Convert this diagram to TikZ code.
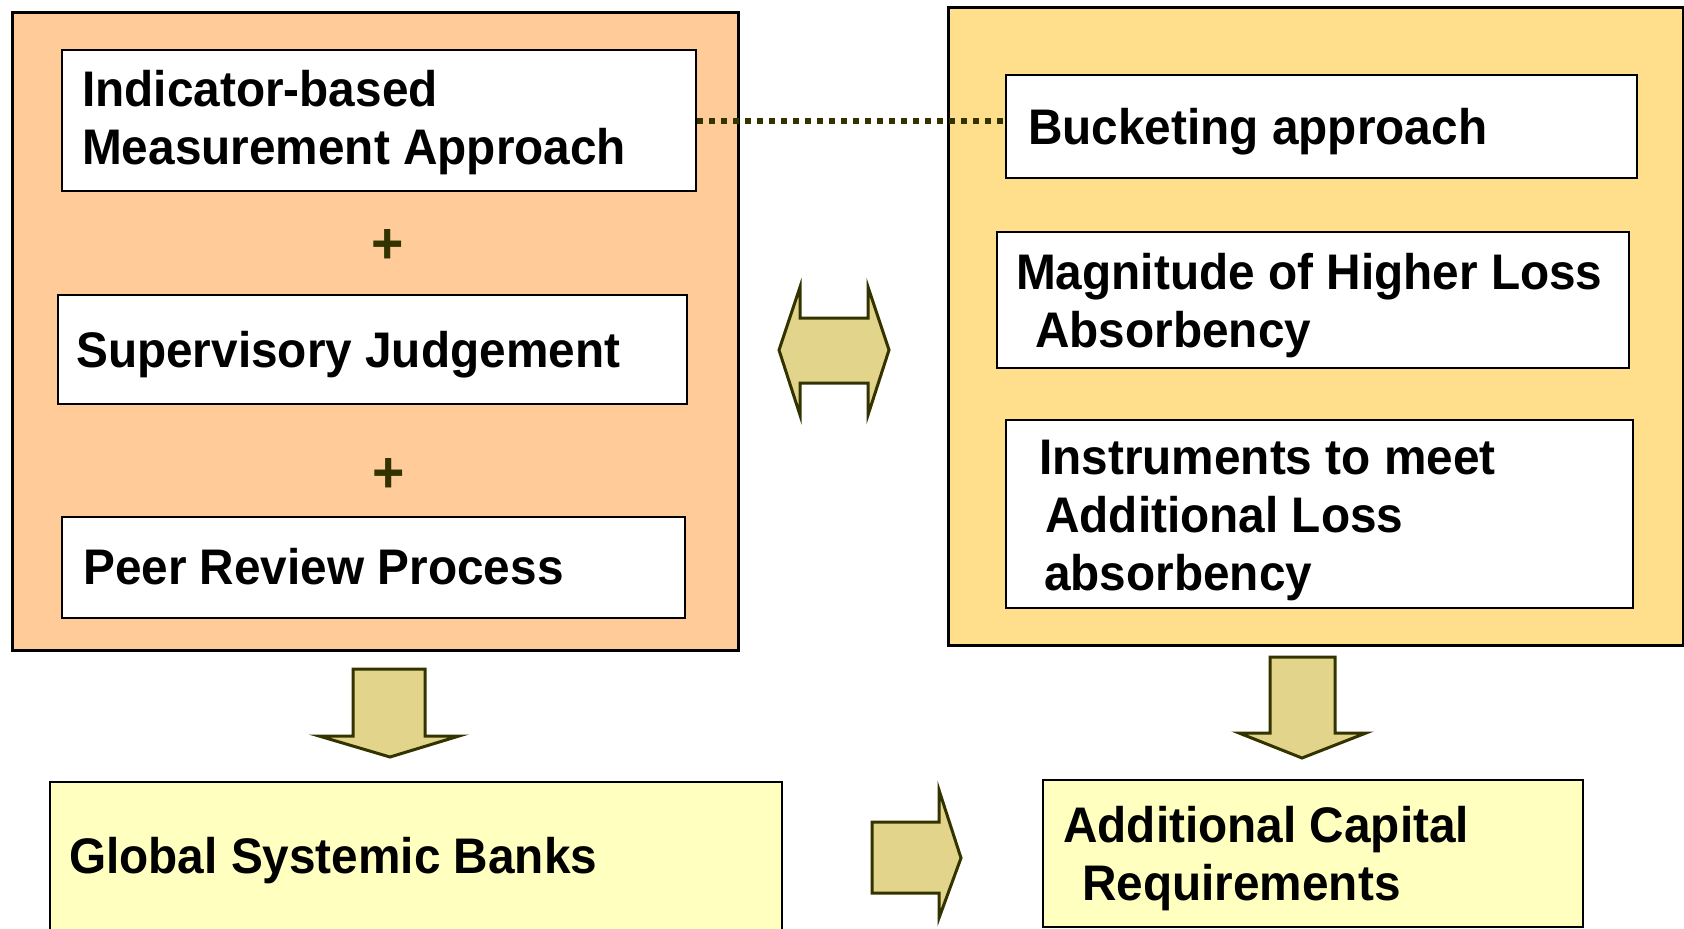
\documentclass[tikz,border=0pt]{standalone}
\usepackage{fontspec}
\newfontfamily\lblfont[FakeStretch=0.955]{Liberation Sans}
\definecolor{peach}{HTML}{FFCC99}
\definecolor{gold}{HTML}{FFDF8C}
\definecolor{paleyellow}{HTML}{FFFFC0}
\definecolor{khaki}{HTML}{E2D58B}
\definecolor{olive}{HTML}{333300}
\tikzset{
  panel/.style={draw=black, line width=3pt, rectangle, inner sep=0pt, anchor=north west},
  card/.style={draw=black, line width=2pt, fill=white, rectangle, inner sep=0pt, anchor=north west},
  result/.style={draw=black, line width=2pt, fill=paleyellow, rectangle, inner sep=0pt, anchor=north west},
  lbl/.style={font=\lblfont\bfseries\fontsize{50}{58}\selectfont, align=left, inner sep=0pt, anchor=west},
  plus/.style={font=\lblfont\bfseries\fontsize{58}{58}\selectfont, text=olive, inner sep=0pt},
  blockarrow/.style={draw=olive, line width=3pt, fill=khaki, line join=miter},
  dotline/.style={draw=olive, line width=6pt, dash pattern=on 6pt off 6pt}
}
\begin{document}
\begin{tikzpicture}[x=1pt, y=-1pt]
\useasboundingbox (0,0) rectangle (1684,929);
\begin{scope}
\clip (0,0) rectangle (1684,929);

% left panel: how banks are identified
\node[panel, fill=peach, minimum width=726pt, minimum height=638pt] (left) at (11,11) {};
\node[card, minimum width=634pt, minimum height=141pt] (ind) at (61,49) {};
\node[lbl] (indt) at ([xshift=21pt,yshift=-2pt]ind.west) {Indicator-based\\Measurement Approach};
\node[plus] (p1) at (388,246) {+};
\node[card, minimum width=629pt, minimum height=109pt] (sup) at (57,294) {};
\node[lbl] (supt) at ([xshift=19pt,yshift=-5pt]sup.west) {Supervisory Judgement};
\node[plus] (p2) at (389,475) {+};
\node[card, minimum width=623pt, minimum height=101pt] (peer) at (61,516) {};
\node[lbl] (peert) at ([xshift=22pt,yshift=1pt]peer.west) {Peer Review Process};

% right panel: how the surcharge is set
\node[panel, fill=gold, minimum width=735pt, minimum height=638pt] (right) at (947,6) {};
\node[card, minimum width=631pt, minimum height=103pt] (bk) at (1005,74) {};
\node[lbl] (bkt) at ([xshift=23pt,yshift=-5pt]bk.west) {Bucketing approach};
\node[card, minimum width=632pt, minimum height=136pt] (mag) at (996,231) {};
\node[lbl] (magt) at ([xshift=20pt,yshift=-6pt]mag.west) {Magnitude of Higher Loss\\\hspace*{19pt}Absorbency};
\node[card, minimum width=627pt, minimum height=188pt] (ins) at (1005,419) {};
\node[lbl] (inst) at ([xshift=34pt,yshift=-6pt]ins.west) {Instruments to meet\\\hspace*{6pt}Additional Loss\\\hspace*{5pt}absorbency};

% dotted link between the two approaches
\draw[dotline] (ind.east) -- (ind.east -| bk.west);

% two-way arrow between the panels
\draw[blockarrow] (779,350) -- (800,287) -- (800,318) -- (868,318) -- (868,287)
  -- (889,350) -- (868,415) -- (868,383) -- (800,383) -- (800,415) -- cycle;

% downward arrows
\draw[blockarrow] (353,669) -- (425,669) -- (425,736) -- (459,736) -- (390,757)
  -- (319,736) -- (353,736) -- cycle;
\draw[blockarrow] (1270,657) -- (1335,657) -- (1335,733) -- (1366,733) -- (1302,758)
  -- (1239,733) -- (1270,733) -- cycle;

% outcome boxes
\node[result, minimum width=732pt, minimum height=160pt] (gsb) at (49,781) {};
\node[lbl] (gsbt) at ([xshift=20pt,yshift=1pt]gsb.west) {Global Systemic Banks};
\node[result, minimum width=540pt, minimum height=147pt] (acr) at (1042,779) {};
\node[lbl] (acrt) at ([xshift=21pt,yshift=-5pt]acr.west) {Additional Capital\\\hspace*{19pt}Requirements};

% arrow from banks to requirements
\draw[blockarrow] (872,822) -- (939,822) -- (939,790) -- (961,858) -- (939,918)
  -- (939,893) -- (872,893) -- cycle;
\end{scope}
\end{tikzpicture}
\end{document}
